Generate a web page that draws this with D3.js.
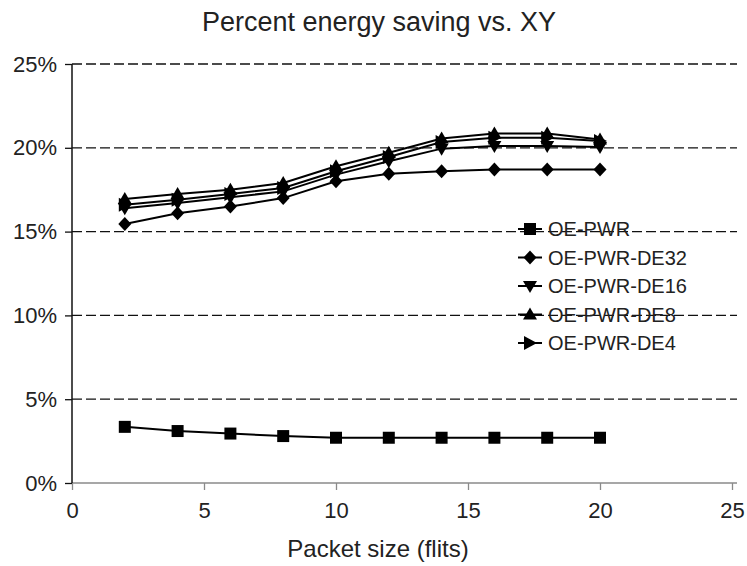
<!DOCTYPE html>
<html>
<head>
<meta charset="utf-8">
<script src="https://cdn.jsdelivr.net/npm/d3@7"></script>
<style>
  html, body { margin: 0; padding: 0; background: #fff; }
  svg text { font-family: "Liberation Sans", Arial, Helvetica, sans-serif; fill: #222; }
</style>
</head>
<body>
<svg id="chart" width="747" height="566"></svg>
<script>
// Packet sizes (flits)
const packetSizes = [2, 4, 6, 8, 10, 12, 14, 16, 18, 20];

// Percent energy saving vs. XY for each scheme
const oePwr      = [3.35, 3.1, 2.95, 2.8, 2.7, 2.7, 2.7, 2.7, 2.7, 2.7];
const oePwrDe32  = [15.45, 16.1, 16.5, 17.0, 18.0, 18.45, 18.6, 18.7, 18.7, 18.7];
const oePwrDe16  = [16.4, 16.7, 17.05, 17.4, 18.4, 19.2, 19.95, 20.1, 20.1, 20.05];
const oePwrDe8   = [16.95, 17.25, 17.5, 17.9, 18.9, 19.7, 20.55, 20.85, 20.85, 20.5];
const oePwrDe4   = [16.6, 16.9, 17.25, 17.6, 18.6, 19.45, 20.35, 20.6, 20.6, 20.4];

const seriesNames = ["OE-PWR", "OE-PWR-DE32", "OE-PWR-DE16", "OE-PWR-DE8", "OE-PWR-DE4"];
const seriesValues = [oePwr, oePwrDe32, oePwrDe16, oePwrDe8, oePwrDe4];
const markerKinds = ["square", "diamond", "down", "up", "right"];

const xTicks = [0, 5, 10, 15, 20, 25];
const yTicks = [0, 5, 10, 15, 20, 25];

const titleText = "Percent energy saving vs. XY";
const xLabel = "Packet size (flits)";

const svg = d3.select("#chart");
const plot = { left: 72, right: 732, top: 64, bottom: 483 };

const x = d3.scaleLinear().domain([0, 25]).range([plot.left, plot.right]);
const y = d3.scaleLinear().domain([0, 25]).range([plot.bottom, plot.top]);

// Dashed horizontal gridlines
svg.append("g")
  .selectAll("line")
  .data(yTicks.filter(d => d > 0))
  .join("line")
  .attr("x1", plot.left).attr("x2", plot.right + 5)
  .attr("y1", d => y(d)).attr("y2", d => y(d))
  .attr("stroke", "#111")
  .attr("stroke-width", 1.3)
  .attr("stroke-dasharray", "10,4");

// Bottom axis
const xAxis = d3.axisBottom(x).tickValues(xTicks).tickSize(7).tickPadding(12).tickFormat(d3.format("d"));
const gx = svg.append("g").attr("transform", `translate(0,${plot.bottom})`).call(xAxis);
gx.select(".domain").attr("stroke", "#8a8a8a").attr("stroke-width", 1.3)
  .attr("d", `M${plot.left},0H${plot.right + 5}`);
gx.selectAll(".tick line").attr("stroke", "#8a8a8a").attr("stroke-width", 1.3);
gx.selectAll(".tick text").attr("font-size", 22).attr("fill", "#222")
  .style("font-family", "'Liberation Sans', Arial, sans-serif");

// Left axis
const yAxis = d3.axisLeft(y).tickValues(yTicks).tickSize(7).tickPadding(8).tickFormat(d => d + "%");
const gy = svg.append("g").attr("transform", `translate(${plot.left},0)`).call(yAxis);
gy.select(".domain").attr("stroke", "#111").attr("stroke-width", 1.5)
  .attr("d", `M0,${plot.top}V${plot.bottom}`);
gy.selectAll(".tick line").attr("stroke", "#111").attr("stroke-width", 1.3);
gy.selectAll(".tick text").attr("font-size", 22).attr("fill", "#222")
  .style("font-family", "'Liberation Sans', Arial, sans-serif");

// Marker shapes
function markerPath(kind) {
  switch (kind) {
    case "square":  return "M-6,-6H6V6H-6Z";
    case "diamond": return "M0,-7L6.5,0L0,7L-6.5,0Z";
    case "down":    return "M-7,-5L7,-5L0,7Z";
    case "up":      return "M-7,5L7,5L0,-7Z";
    case "right":   return "M-6,-7L7,0L-6,7Z";
  }
}

const line = d3.line().x((d, i) => x(packetSizes[i])).y(d => y(d));

seriesValues.forEach((vals, si) => {
  const g = svg.append("g");
  g.append("path")
    .datum(vals)
    .attr("d", line)
    .attr("fill", "none")
    .attr("stroke", "#000")
    .attr("stroke-width", 2);
  g.selectAll("path.mk")
    .data(vals)
    .join("path")
    .attr("class", "mk")
    .attr("transform", (d, i) => `translate(${x(packetSizes[i])},${y(d)})`)
    .attr("d", markerPath(markerKinds[si]))
    .attr("fill", "#000");
});

// Legend
const legend = svg.append("g").attr("transform", "translate(518,229)");
seriesNames.forEach((name, i) => {
  const row = legend.append("g").attr("transform", `translate(0,${i * 28.5})`);
  row.append("line").attr("x1", 0).attr("x2", 24).attr("y1", 0).attr("y2", 0)
    .attr("stroke", "#000").attr("stroke-width", 2);
  row.append("path").attr("transform", "translate(12,0)")
    .attr("d", markerPath(markerKinds[i])).attr("fill", "#000");
  row.append("text").attr("x", 30).attr("y", 0).attr("dy", "0.35em")
    .attr("font-size", 20).text(name);
});

// Title and axis label
svg.append("text").attr("x", 379).attr("y", 31)
  .attr("text-anchor", "middle").attr("font-size", 27).text(titleText);
svg.append("text").attr("x", 378).attr("y", 557)
  .attr("text-anchor", "middle").attr("font-size", 24).text(xLabel);
</script>
</body>
</html>
